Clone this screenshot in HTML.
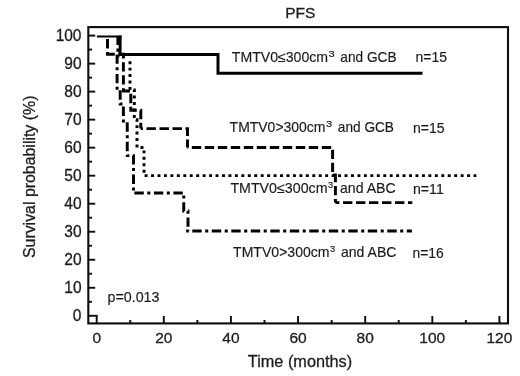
<!DOCTYPE html>
<html lang="en"><head><meta charset="utf-8"><title>PFS</title>
<style>
html,body{margin:0;padding:0;background:#fff;}
body{width:520px;height:376px;overflow:hidden;}
svg{display:block;}
.ax{font-family:"Liberation Sans",Arial,sans-serif;fill:#1c1c1c;stroke:#1c1c1c;stroke-width:0.3px;}
.lb{font-family:"Liberation Sans",Arial,sans-serif;fill:#1a1a1a;stroke:#1a1a1a;stroke-width:0.15px;}
</style></head><body>
<svg width="520" height="376" viewBox="0 0 520 376">
<defs><filter id="soft" x="0" y="0" width="520" height="376" filterUnits="userSpaceOnUse"><feGaussianBlur stdDeviation="0.45"/></filter></defs>
<rect x="0" y="0" width="520" height="376" fill="#ffffff"/>
<g filter="url(#soft)">
<rect x="88.3" y="27.1" width="419.7" height="296.29999999999995" fill="none" stroke="#0c0c0c" stroke-width="2.1"/>
<line x1="88.3" y1="315.80" x2="97.7" y2="315.80" stroke="#0c0c0c" stroke-width="1.9"/>
<line x1="88.3" y1="301.79" x2="92.0" y2="301.79" stroke="#0c0c0c" stroke-width="1.9"/>
<line x1="88.3" y1="287.78" x2="95.2" y2="287.78" stroke="#0c0c0c" stroke-width="1.9"/>
<line x1="88.3" y1="273.77" x2="92.0" y2="273.77" stroke="#0c0c0c" stroke-width="1.9"/>
<line x1="88.3" y1="259.76" x2="95.2" y2="259.76" stroke="#0c0c0c" stroke-width="1.9"/>
<line x1="88.3" y1="245.75" x2="92.0" y2="245.75" stroke="#0c0c0c" stroke-width="1.9"/>
<line x1="88.3" y1="231.74" x2="95.2" y2="231.74" stroke="#0c0c0c" stroke-width="1.9"/>
<line x1="88.3" y1="217.73" x2="92.0" y2="217.73" stroke="#0c0c0c" stroke-width="1.9"/>
<line x1="88.3" y1="203.72" x2="95.2" y2="203.72" stroke="#0c0c0c" stroke-width="1.9"/>
<line x1="88.3" y1="189.71" x2="92.0" y2="189.71" stroke="#0c0c0c" stroke-width="1.9"/>
<line x1="88.3" y1="175.70" x2="95.2" y2="175.70" stroke="#0c0c0c" stroke-width="1.9"/>
<line x1="88.3" y1="161.69" x2="92.0" y2="161.69" stroke="#0c0c0c" stroke-width="1.9"/>
<line x1="88.3" y1="147.68" x2="95.2" y2="147.68" stroke="#0c0c0c" stroke-width="1.9"/>
<line x1="88.3" y1="133.67" x2="92.0" y2="133.67" stroke="#0c0c0c" stroke-width="1.9"/>
<line x1="88.3" y1="119.66" x2="95.2" y2="119.66" stroke="#0c0c0c" stroke-width="1.9"/>
<line x1="88.3" y1="105.65" x2="92.0" y2="105.65" stroke="#0c0c0c" stroke-width="1.9"/>
<line x1="88.3" y1="91.64" x2="95.2" y2="91.64" stroke="#0c0c0c" stroke-width="1.9"/>
<line x1="88.3" y1="77.63" x2="92.0" y2="77.63" stroke="#0c0c0c" stroke-width="1.9"/>
<line x1="88.3" y1="63.62" x2="95.2" y2="63.62" stroke="#0c0c0c" stroke-width="1.9"/>
<line x1="88.3" y1="49.61" x2="92.0" y2="49.61" stroke="#0c0c0c" stroke-width="1.9"/>
<line x1="88.3" y1="35.60" x2="95.2" y2="35.60" stroke="#0c0c0c" stroke-width="1.9"/>
<text class="ax" x="81.5" y="311.55" font-size="15.5" text-anchor="end" transform="translate(81.5 0) scale(1.0 1.03) translate(-81.5 0)">0</text>
<text class="ax" x="81.5" y="284.35" font-size="15.5" text-anchor="end" transform="translate(81.5 0) scale(1.0 1.03) translate(-81.5 0)">10</text>
<text class="ax" x="81.5" y="257.15" font-size="15.5" text-anchor="end" transform="translate(81.5 0) scale(1.0 1.03) translate(-81.5 0)">20</text>
<text class="ax" x="81.5" y="229.94" font-size="15.5" text-anchor="end" transform="translate(81.5 0) scale(1.0 1.03) translate(-81.5 0)">30</text>
<text class="ax" x="81.5" y="202.74" font-size="15.5" text-anchor="end" transform="translate(81.5 0) scale(1.0 1.03) translate(-81.5 0)">40</text>
<text class="ax" x="81.5" y="175.53" font-size="15.5" text-anchor="end" transform="translate(81.5 0) scale(1.0 1.03) translate(-81.5 0)">50</text>
<text class="ax" x="81.5" y="148.33" font-size="15.5" text-anchor="end" transform="translate(81.5 0) scale(1.0 1.03) translate(-81.5 0)">60</text>
<text class="ax" x="81.5" y="121.13" font-size="15.5" text-anchor="end" transform="translate(81.5 0) scale(1.0 1.03) translate(-81.5 0)">70</text>
<text class="ax" x="81.5" y="93.92" font-size="15.5" text-anchor="end" transform="translate(81.5 0) scale(1.0 1.03) translate(-81.5 0)">80</text>
<text class="ax" x="81.5" y="66.72" font-size="15.5" text-anchor="end" transform="translate(81.5 0) scale(1.0 1.03) translate(-81.5 0)">90</text>
<text class="ax" x="81.5" y="39.51" font-size="15.5" text-anchor="end" transform="translate(81.5 0) scale(1.0 1.03) translate(-81.5 0)">100</text>
<line x1="96.70" y1="323.4" x2="96.70" y2="316.0" stroke="#0c0c0c" stroke-width="1.9"/>
<line x1="130.26" y1="323.4" x2="130.26" y2="320.0" stroke="#0c0c0c" stroke-width="1.9"/>
<line x1="163.82" y1="323.4" x2="163.82" y2="316.0" stroke="#0c0c0c" stroke-width="1.9"/>
<line x1="197.38" y1="323.4" x2="197.38" y2="320.0" stroke="#0c0c0c" stroke-width="1.9"/>
<line x1="230.94" y1="323.4" x2="230.94" y2="316.0" stroke="#0c0c0c" stroke-width="1.9"/>
<line x1="264.50" y1="323.4" x2="264.50" y2="320.0" stroke="#0c0c0c" stroke-width="1.9"/>
<line x1="298.06" y1="323.4" x2="298.06" y2="316.0" stroke="#0c0c0c" stroke-width="1.9"/>
<line x1="331.62" y1="323.4" x2="331.62" y2="320.0" stroke="#0c0c0c" stroke-width="1.9"/>
<line x1="365.18" y1="323.4" x2="365.18" y2="316.0" stroke="#0c0c0c" stroke-width="1.9"/>
<line x1="398.74" y1="323.4" x2="398.74" y2="320.0" stroke="#0c0c0c" stroke-width="1.9"/>
<line x1="432.30" y1="323.4" x2="432.30" y2="316.0" stroke="#0c0c0c" stroke-width="1.9"/>
<line x1="465.86" y1="323.4" x2="465.86" y2="320.0" stroke="#0c0c0c" stroke-width="1.9"/>
<line x1="499.42" y1="323.4" x2="499.42" y2="316.0" stroke="#0c0c0c" stroke-width="1.9"/>
<text class="ax" x="96.70" y="343.3" font-size="15.5" text-anchor="middle" transform="translate(96.70 0) scale(1.0 1) translate(-96.70 0)">0</text>
<text class="ax" x="163.82" y="343.3" font-size="15.5" text-anchor="middle" transform="translate(163.82 0) scale(1.0 1) translate(-163.82 0)">20</text>
<text class="ax" x="230.94" y="343.3" font-size="15.5" text-anchor="middle" transform="translate(230.94 0) scale(1.0 1) translate(-230.94 0)">40</text>
<text class="ax" x="298.06" y="343.3" font-size="15.5" text-anchor="middle" transform="translate(298.06 0) scale(1.0 1) translate(-298.06 0)">60</text>
<text class="ax" x="365.18" y="343.3" font-size="15.5" text-anchor="middle" transform="translate(365.18 0) scale(1.0 1) translate(-365.18 0)">80</text>
<text class="ax" x="432.30" y="343.3" font-size="15.5" text-anchor="middle" transform="translate(432.30 0) scale(1.0 1) translate(-432.30 0)">100</text>
<text class="ax" x="499.42" y="343.3" font-size="15.5" text-anchor="middle" transform="translate(499.42 0) scale(1.0 1) translate(-499.42 0)">120</text>
<text class="ax" x="300.3" y="17.7" font-size="15.5" text-anchor="middle">PFS</text>
<text class="ax" x="300" y="367" font-size="16.3" text-anchor="middle">Time (months)</text>
<text class="ax" font-size="15.9" text-anchor="middle" transform="translate(35 176.8) rotate(-90)">Survival probability (%)</text>
<line x1="96.9" y1="36.5" x2="121.6" y2="36.5" stroke="#000" stroke-width="2"/>
<path d="M120.10 35.50 L120.10 54.40 L218.00 54.40 L218.00 73.30 L422.50 73.30" fill="none" stroke="#000" stroke-width="3.0" stroke-linejoin="miter"/>
<path d="M107.50 36.50 L107.50 54.20 L123.40 54.20 L123.40 91.00 L130.80 91.00 L130.80 110.20 L140.80 110.20 L140.80 128.60" fill="none" stroke="#000" stroke-width="2.95" stroke-dasharray="9.40 3.60" stroke-dashoffset="10.40"/>
<path d="M140.80 128.60 L187.50 128.60 L187.50 147.50" fill="none" stroke="#000" stroke-width="2.95" stroke-dasharray="9.40 3.60" stroke-dashoffset="7.30"/>
<path d="M187.50 147.50 L332.60 147.50 L332.60 175.00 L335.40 175.00 L335.40 202.60" fill="none" stroke="#000" stroke-width="2.95" stroke-dasharray="9.40 3.60" stroke-dashoffset="8.70"/>
<path d="M335.40 202.60 L412.30 202.60" fill="none" stroke="#000" stroke-width="2.95" stroke-dasharray="9.40 3.60" stroke-dashoffset="5.40"/>
<path d="M130.00 61.20 L130.00 90.00 L134.30 90.00 L134.30 119.70 L137.00 119.70 L137.00 147.50 L144.00 147.50 L144.00 175.60 L476.30 175.60" fill="none" stroke="#000" stroke-width="2.95" stroke-dasharray="2.95 3.50" stroke-dashoffset="0.00"/>
<path d="M117.90 36.50 L117.90 56.00 L117.10 56.00 L117.10 90.00 L120.20 90.00 L120.20 104.00 L123.40 104.00 L123.40 121.00 L127.25 121.00 L127.25 155.60 L133.50 155.60 L133.50 193.00" fill="none" stroke="#000" stroke-width="2.95" stroke-dasharray="9.40 3.50 3.05 3.55" stroke-dashoffset="0.80"/>
<path d="M133.50 193.00 L183.75 193.00 L183.75 211.00 L188.00 211.00 L188.00 230.90" fill="none" stroke="#000" stroke-width="2.95" stroke-dasharray="9.40 3.50 3.05 3.55" stroke-dashoffset="18.60"/>
<path d="M186.20 230.90 L411.90 230.90" fill="none" stroke="#000" stroke-width="2.95" stroke-dasharray="9.40 3.50 3.05 3.55" stroke-dashoffset="13.40"/>
<text class="lb" x="231.8" y="61.5" font-size="14.1" textLength="96.20" lengthAdjust="spacingAndGlyphs">TMTV0≤300cm</text>
<text class="lb" x="328.60" y="56.50" font-size="9.6" textLength="6.20" lengthAdjust="spacingAndGlyphs">3</text>
<text class="lb" x="340.3" y="61.5" font-size="14.1" textLength="56.30" lengthAdjust="spacingAndGlyphs">and GCB</text>
<text class="lb" x="415.5" y="62.00" font-size="14.1" textLength="31.50" lengthAdjust="spacingAndGlyphs">n=15</text>
<text class="lb" x="229.6" y="132.4" font-size="14.1" textLength="95.90" lengthAdjust="spacingAndGlyphs">TMTV0&gt;300cm</text>
<text class="lb" x="326.10" y="127.40" font-size="9.6" textLength="6.20" lengthAdjust="spacingAndGlyphs">3</text>
<text class="lb" x="337.8" y="132.4" font-size="14.1" textLength="56.20" lengthAdjust="spacingAndGlyphs">and GCB</text>
<text class="lb" x="413" y="132.90" font-size="14.1" textLength="31.50" lengthAdjust="spacingAndGlyphs">n=15</text>
<text class="lb" x="230.4" y="193.0" font-size="14.1" textLength="97.10" lengthAdjust="spacingAndGlyphs">TMTV0≤300cm</text>
<text class="lb" x="328.10" y="188.00" font-size="9.6" textLength="5.20" lengthAdjust="spacingAndGlyphs">3</text>
<text class="lb" x="340.0" y="193.0" font-size="14.1" textLength="55.70" lengthAdjust="spacingAndGlyphs">and ABC</text>
<text class="lb" x="413" y="193.50" font-size="14.1" textLength="30.75" lengthAdjust="spacingAndGlyphs">n=11</text>
<text class="lb" x="233.1" y="257.3" font-size="14.1" textLength="96.40" lengthAdjust="spacingAndGlyphs">TMTV0&gt;300cm</text>
<text class="lb" x="330.10" y="252.30" font-size="9.6" textLength="5.20" lengthAdjust="spacingAndGlyphs">3</text>
<text class="lb" x="341.0" y="257.3" font-size="14.1" textLength="55.40" lengthAdjust="spacingAndGlyphs">and ABC</text>
<text class="lb" x="412.5" y="257.80" font-size="14.1" textLength="31.25" lengthAdjust="spacingAndGlyphs">n=16</text>
<text class="lb" x="107.5" y="302.3" font-size="14.1" textLength="52" lengthAdjust="spacingAndGlyphs">p=0.013</text>
</g>
</svg>
</body></html>
